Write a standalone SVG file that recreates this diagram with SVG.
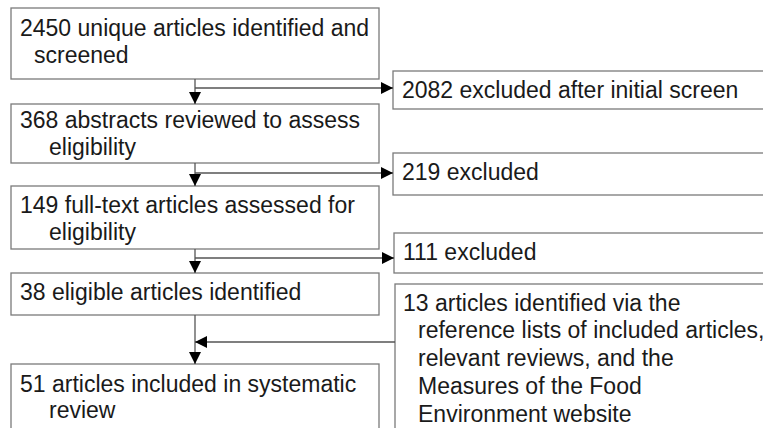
<svg xmlns="http://www.w3.org/2000/svg" width="763" height="428" viewBox="0 0 763 428">
<defs>
<style>
.box{fill:#fff;stroke:#7a7a7a;stroke-width:1.3}
.t{font-family:"Liberation Sans",Arial,sans-serif;font-size:23px;fill:#1a1a1a}
.c{fill:none;stroke:#555;stroke-width:1.3}
</style>
<marker id="ah" viewBox="0 0 12 12" refX="12" refY="6" markerWidth="12" markerHeight="12" markerUnits="userSpaceOnUse" orient="auto">
<path d="M0,0 L12,6 L0,12 Z" fill="#000"/>
</marker>
</defs>
<rect width="763" height="428" fill="#fff"/>
<g id="n1"><rect class="box" x="11" y="8" width="368" height="71"/>
<text class="t" x="20" y="36">2450 unique articles identified and</text>
<text class="t" x="34" y="63">screened</text></g>
<g id="n2"><rect class="box" x="11" y="104" width="368" height="59"/>
<text class="t" x="20" y="128">368 abstracts reviewed to assess</text>
<text class="t" x="49" y="155">eligibility</text></g>
<g id="n3"><rect class="box" x="11" y="186" width="368" height="63"/>
<text class="t" x="20" y="213">149 full-text articles assessed for</text>
<text class="t" x="49" y="240">eligibility</text></g>
<g id="n4"><rect class="box" x="11" y="273" width="368" height="42"/>
<text class="t" x="20" y="300">38 eligible articles identified</text></g>
<g id="n5"><rect class="box" x="11" y="364" width="368" height="80"/>
<text class="t" x="20" y="392">51 articles included in systematic</text>
<text class="t" x="49" y="418">review</text></g>
<g id="e1"><rect class="box" x="393" y="71" width="390" height="38"/>
<text class="t" x="402" y="98">2082 excluded after initial screen</text></g>
<g id="e2"><rect class="box" x="393" y="153" width="390" height="42"/>
<text class="t" x="402" y="180">219 excluded</text></g>
<g id="e3"><rect class="box" x="394" y="233" width="390" height="40"/>
<text class="t" x="403" y="260">111 excluded</text></g>
<g id="a1"><rect class="box" x="395" y="284" width="390" height="160"/>
<text class="t" x="403" y="311">13 articles identified via the</text>
<text class="t" x="418" y="338">reference lists of included articles,</text>
<text class="t" x="418" y="366">relevant reviews, and the</text>
<text class="t" x="418" y="394">Measures of the Food</text>
<text class="t" x="418" y="422">Environment website</text></g>
<g id="connectors">
<path class="c" d="M195,79 V104" marker-end="url(#ah)"/>
<path class="c" d="M195,88 H393" marker-end="url(#ah)"/>
<path class="c" d="M195,163 V186" marker-end="url(#ah)"/>
<path class="c" d="M195,173 H393" marker-end="url(#ah)"/>
<path class="c" d="M195,249 V273" marker-end="url(#ah)"/>
<path class="c" d="M195,258 H394" marker-end="url(#ah)"/>
<path class="c" d="M195,315 V364" marker-end="url(#ah)"/>
<path class="c" d="M395,342 H195" marker-end="url(#ah)"/>
</g>
</svg>
